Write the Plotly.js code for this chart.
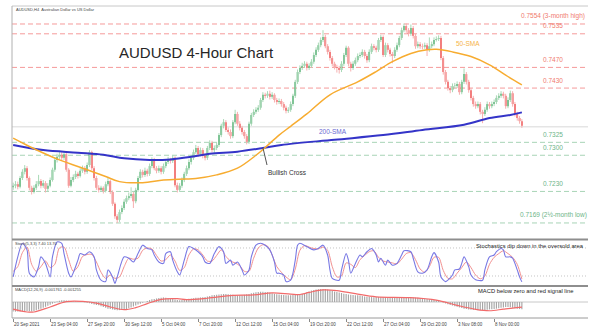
<!DOCTYPE html>
<html><head><meta charset="utf-8">
<script src="https://cdn.plot.ly/plotly-3.0.1.min.js"></script>
<style>html,body{margin:0;padding:0;background:#fff}#chart{width:600px;height:332px}</style>
</head><body><div id="chart"></div>
<script>
// ---- price data (pips, 4-decimal price * 10000), one 4-hour candle per index ----
const opens = [7238,7241,7244,7239,7256,7268,7275,7256,7237,7229,
7237,7244,7250,7241,7246,7235,7241,7252,7272,7291,
7297,7301,7295,7302,7272,7241,7252,7258,7264,7260,
7270,7275,7268,7281,7306,7275,7256,7237,7233,7237,
7231,7244,7250,7229,7206,7182,7175,7190,7198,7210,
7217,7221,7225,7211,7233,7256,7268,7262,7270,7264,
7279,7291,7275,7270,7275,7268,7279,7287,7291,7289,
7295,7242,7233,7241,7252,7264,7275,7287,7295,7306,
7314,7302,7310,7299,7295,7314,7324,7310,7314,7320,
7339,7357,7364,7349,7345,7337,7364,7380,7361,7353,
7345,7337,7326,7361,7378,7384,7388,7392,7407,7417,
7415,7419,7413,7417,7407,7403,7405,7399,7392,7386,
7388,7399,7415,7442,7461,7469,7473,7477,7469,7473,
7481,7494,7504,7513,7523,7529,7511,7500,7488,7477,
7471,7469,7465,7477,7494,7508,7477,7469,7477,7484,
7492,7494,7500,7492,7484,7500,7511,7508,7504,7523,
7529,7494,7513,7504,7496,7492,7504,7513,7527,7542,
7550,7542,7535,7546,7531,7511,7515,7511,7510,7513,
7504,7511,7515,7523,7525,7527,7488,7461,7442,7430,
7426,7434,7434,7438,7422,7442,7457,7442,7426,7411,
7399,7395,7399,7384,7380,7388,7399,7395,7399,7403,
7411,7415,7419,7415,7395,7407,7420,7399,7380,7372,
7366];
const highs = [7247,7250,7249,7260,7273,7281,7279,7259,7241,7242,
7250,7262,7254,7252,7250,7246,7257,7276,7296,7303,
7309,7306,7307,7305,7275,7258,7263,7270,7268,7275,
7280,7279,7286,7310,7309,7279,7260,7242,7241,7240,
7249,7256,7253,7232,7209,7186,7195,7203,7215,7222,
7228,7238,7229,7237,7260,7273,7272,7276,7274,7284,
7296,7295,7279,7280,7279,7284,7292,7297,7295,7300,
7298,7247,7246,7257,7268,7280,7292,7300,7311,7320,
7318,7315,7314,7303,7318,7329,7328,7319,7325,7343,
7361,7370,7368,7354,7350,7368,7388,7384,7366,7357,
7349,7341,7365,7382,7389,7393,7397,7411,7422,7421,
7424,7425,7422,7420,7411,7410,7409,7403,7396,7393,
7404,7419,7446,7466,7474,7479,7482,7481,7478,7486,
7499,7509,7518,7528,7542,7533,7515,7504,7492,7481,
7475,7473,7482,7498,7512,7511,7481,7482,7489,7497,
7499,7505,7504,7496,7505,7516,7515,7512,7527,7533,
7532,7518,7517,7508,7500,7509,7518,7531,7547,7555,
7555,7546,7553,7550,7535,7520,7519,7516,7518,7517,
7528,7520,7528,7530,7532,7531,7492,7465,7446,7434,
7439,7440,7443,7442,7446,7468,7461,7446,7430,7415,
7404,7404,7403,7388,7393,7404,7403,7404,7408,7416,
7420,7424,7423,7419,7412,7425,7424,7403,7384,7376,
7370];
const lows = [7233,7236,7234,7236,7252,7263,7251,7232,7224,7226,
7233,7240,7236,7237,7228,7230,7238,7249,7268,7286,
7292,7289,7291,7268,7237,7238,7248,7254,7255,7257,
7266,7263,7264,7277,7271,7251,7233,7228,7229,7226,
7228,7240,7225,7202,7177,7169,7171,7186,7194,7206,
7213,7217,7198,7207,7229,7252,7257,7258,7259,7260,
7275,7271,7265,7266,7263,7264,7275,7283,7284,7285,
7238,7228,7229,7237,7248,7260,7271,7282,7291,7302,
7297,7298,7294,7290,7291,7310,7306,7305,7310,7316,
7335,7352,7345,7340,7332,7333,7360,7357,7348,7340,
7332,7321,7322,7357,7374,7380,7384,7388,7403,7410,
7411,7408,7409,7402,7398,7399,7394,7387,7381,7382,
7384,7395,7411,7438,7457,7465,7469,7464,7465,7469,
7477,7490,7500,7509,7519,7507,7495,7483,7472,7466,
7460,7458,7461,7473,7490,7472,7462,7465,7473,7480,
7488,7490,7487,7479,7480,7496,7503,7499,7500,7519,
7490,7490,7499,7491,7478,7488,7500,7509,7523,7538,
7537,7530,7531,7526,7506,7507,7506,7505,7506,7492,
7500,7507,7511,7520,7521,7484,7456,7437,7425,7420,
7422,7429,7430,7417,7418,7438,7437,7421,7406,7394,
7390,7391,7379,7362,7376,7384,7390,7391,7395,7399,
7407,7411,7410,7390,7391,7403,7394,7375,7367,7361,
7353];
const closes = [7241,7244,7239,7256,7268,7275,7256,7237,7229,7237,
7244,7250,7241,7246,7235,7241,7252,7272,7291,7297,
7301,7295,7302,7272,7241,7252,7258,7264,7260,7270,
7275,7268,7281,7306,7275,7256,7237,7233,7237,7231,
7244,7250,7229,7206,7182,7175,7190,7198,7210,7217,
7221,7225,7211,7233,7256,7268,7262,7270,7264,7279,
7291,7275,7270,7275,7268,7279,7287,7291,7289,7295,
7242,7233,7241,7252,7264,7275,7287,7295,7306,7314,
7302,7310,7299,7295,7314,7324,7310,7314,7320,7339,
7357,7364,7349,7345,7337,7364,7380,7361,7353,7345,
7337,7326,7361,7378,7384,7388,7392,7407,7417,7415,
7419,7413,7417,7407,7403,7405,7399,7392,7386,7388,
7399,7415,7442,7461,7469,7473,7477,7469,7473,7481,
7494,7504,7513,7523,7529,7511,7500,7488,7477,7471,
7469,7465,7477,7494,7508,7477,7469,7477,7484,7492,
7494,7500,7492,7484,7500,7511,7508,7504,7523,7529,
7494,7513,7504,7496,7492,7504,7513,7527,7542,7550,
7542,7535,7546,7531,7511,7515,7511,7510,7513,7504,
7511,7515,7523,7525,7527,7488,7461,7442,7430,7426,
7434,7434,7438,7422,7442,7457,7442,7426,7411,7399,
7395,7399,7384,7380,7388,7399,7395,7399,7403,7411,
7415,7419,7415,7395,7407,7420,7399,7380,7372,7366,
7357];

// ---- moving averages (candle index, pips) ----
const sma50X = [0,7,20,32,40,46,56,65,74,79,88,97,105,109,115,120,127,137,149,157,164,172,179,183,190,198,206,213,220];
const sma50Y = [7333,7317,7291,7272,7259,7249,7247,7252,7254,7255,7262,7275,7300,7315,7339,7356,7380,7417,7442,7462,7481,7497,7504,7505,7500,7491,7475,7455,7436];
const sma200X = [0,13,28,39,48,59,68,77,85,97,108,116,139,160,177,195,206,215,220];
const sma200Y = [7320,7310,7305,7301,7294,7291,7292,7297,7303,7307,7314,7320,7330,7339,7349,7359,7372,7378,7383];

// ---- stochastic (5,3,3) ----
const stochKX = [0,2,4,6,7,9,11,12,14,16,17,19,21,22,24,25,28,29,31,33,35,36,38,40,41,43,44,45,48,50,52,54,56,58,60,61,63,65,66,68,69,71,72,74,76,78,80,82,83,85,87,89,91,92,94,95,97,99,100,102,103,105,107,109,111,113,114,115,117,118,120,122,123,124,127,130,132,134,136,137,138,141,142,144,145,146,148,150,151,153,155,157,158,159,161,162,164,166,168,169,172,173,175,177,179,181,182,184,185,187,188,190,191,193,194,195,197,198,200,203,204,206,208,209,211,212,213,215,216,218,219,220];
const stochKY = [18,61,90,76,26,18,40,61,47,18,61,93,90,68,26,18,54,68,65,72,61,33,11,8,33,18,4,18,61,58,50,68,86,79,76,65,50,47,68,72,54,29,22,54,83,79,72,61,50,47,68,83,72,47,54,43,50,33,22,33,61,86,90,86,76,50,26,26,22,8,11,54,86,90,83,76,79,86,65,33,15,11,33,68,54,26,47,65,61,72,79,65,50,58,43,54,43,47,65,74,72,58,29,26,33,61,70,50,18,8,11,22,33,35,47,61,40,22,12,11,33,61,65,72,79,76,61,61,58,33,18,7.4];
const stochDX = [0,2,4,6,8,10,12,14,16,18,20,22,24,26,28,30,32,34,36,38,40,42,44,46,48,50,52,54,56,58,60,62,64,66,68,70,72,74,76,78,80,82,84,86,88,90,92,94,96,98,100,102,104,106,108,110,112,114,116,118,120,122,124,126,129,132,134,136,138,140,142,144,146,148,150,152,154,156,158,160,162,164,166,168,170,172,174,176,178,180,182,184,186,188,190,192,194,196,198,200,202,204,206,208,210,212,214,216,218,220];
const stochDY = [30,40,70,82,45,30,40,52,38,45,80,82,55,30,40,62,66,66,50,28,15,22,15,18,40,58,56,58,75,80,78,64,52,55,65,52,32,38,65,78,76,65,52,52,64,76,62,52,48,42,30,30,58,80,87,84,65,40,28,18,12,35,75,85,80,78,82,75,40,18,20,48,45,38,55,64,72,74,60,52,50,48,46,56,68,70,55,35,28,40,60,60,32,15,14,26,38,50,38,22,14,20,45,60,68,74,68,60,45,13.7];

// ---- MACD (12,26,9), units of 0.00001 ----
const macdHist = [-230,-232,-228,-225,-222,-220,-218,-222,-225,-215,
-200,-180,-160,-140,-115,-90,-65,-40,-15,10,
30,40,42,38,30,22,15,10,5,2,
0,-5,-15,-30,-45,-60,-70,-80,-100,-120,
-140,-160,-170,-180,-190,-195,-195,-190,-185,-170,
-150,-130,-110,-85,-60,-40,-20,0,25,50,
65,75,85,95,105,110,100,90,80,70,
60,50,45,50,60,70,80,85,90,100,
105,110,115,120,130,145,160,170,175,180,
185,190,190,185,180,175,165,160,160,165,
175,185,195,210,225,235,240,245,245,240,
235,225,210,195,185,180,175,170,165,160,
165,170,175,180,190,200,215,235,255,275,
290,300,305,310,312,310,300,285,265,250,
240,230,215,200,190,180,175,170,165,160,
155,145,135,125,120,118,115,118,120,122,
120,115,110,108,106,104,102,100,100,102,
105,108,110,108,105,100,95,90,85,75,
65,55,50,45,35,15,-10,-35,-55,-70,
-85,-100,-115,-130,-145,-160,-170,-180,-185,-190,
-192,-195,-196,-195,-190,-185,-178,-172,-168,-160,
-150,-140,-130,-122,-120,-125,-140,-150,-160,-170,
-176];
const signalX = [0,6,9,16,23,30,36,42,48,53,58,64,71,75,84,95,104,112,120,124,128,134,140,148,157,171,183,192,200,206,212,216,220];
const signalY = [-170,-240,-240,-120,10,15,-25,-120,-185,-135,-40,65,80,55,90,160,170,220,190,180,230,290,275,200,125,105,45,-80,-175,-210,-170,-145,-125];

// ---- levels and labels ----
const levelValues = [0.7554,0.7535,0.7470,0.7430,0.7325,0.7300,0.7230,0.7169];
const levelLabels = ['0.7554 (3-month high)','0.7535','0.7470','0.7430','0.7325','0.7300','0.7230','0.7169 (2½-month low)'];
const levelKinds = ['resistance','resistance','resistance','resistance','support','support','support','support'];
const currentPrice = 0.7355;
const tickIdx = [0,16,32,48,64,80,96,112,128,144,160,176,192,208];
const tickLabels = ['20 Sep 2021','23 Sep 04:00','27 Sep 20:00','30 Sep 12:00','5 Oct 04:00','7 Oct 20:00','12 Oct 12:00','15 Oct 04:00','19 Oct 20:00','22 Oct 12:00','27 Oct 04:00','29 Oct 20:00','3 Nov 08:00','8 Nov 00:00'];

// ---- build ----
const FONT = 'Arial, "Liberation Sans", sans-serif';
const px = v => v / 600, py = v => 1 - v / 332;
const P = v => v / 10000, M = v => v / 100000;

const upX=[],upB=[],upH=[],dnX=[],dnB=[],dnH=[],wuX=[],wuY=[],wdX=[],wdY=[];
closes.forEach((c,i)=>{
  const o = opens[i];
  if (c >= o) { upX.push(i); upB.push(P(o)); upH.push(P(Math.max(c-o,0.7)));
    wuX.push(i,i,null); wuY.push(P(lows[i]),P(highs[i]),null); }
  else { dnX.push(i); dnB.push(P(c)); dnH.push(P(o-c));
    wdX.push(i,i,null); wdY.push(P(lows[i]),P(highs[i]),null); }
});

const traces = [
  {type:'scatter',mode:'lines',x:wuX,y:wuY,line:{color:'#a9d9b6',width:1},xaxis:'x',yaxis:'y'},
  {type:'scatter',mode:'lines',x:wdX,y:wdY,line:{color:'#f6b0b0',width:1},xaxis:'x',yaxis:'y'},
  {type:'bar',x:upX,base:upB,y:upH,width:0.72,marker:{color:'#33a05a',line:{width:0}},xaxis:'x',yaxis:'y'},
  {type:'bar',x:dnX,base:dnB,y:dnH,width:0.72,marker:{color:'#ec2a2a',line:{width:0}},xaxis:'x',yaxis:'y'},
  {type:'scatter',mode:'lines',x:sma200X,y:sma200Y.map(P),line:{color:'#3434c8',width:2,shape:'spline',smoothing:1},xaxis:'x',yaxis:'y'},
  {type:'scatter',mode:'lines',x:sma50X,y:sma50Y.map(P),line:{color:'#f7ac30',width:1.5,shape:'spline',smoothing:1},xaxis:'x',yaxis:'y'},
  {type:'scatter',mode:'lines',x:stochDX,y:stochDY,line:{color:'#f29090',width:1,shape:'spline',smoothing:0.8},xaxis:'x',yaxis:'y2'},
  {type:'scatter',mode:'lines',x:stochKX,y:stochKY,line:{color:'#7878e4',width:1.1,shape:'spline',smoothing:0.8},xaxis:'x',yaxis:'y2'},
  {type:'bar',x:macdHist.map((_,i)=>i),y:macdHist.map(M),width:0.5,marker:{color:'#a6a6a6',line:{width:0}},xaxis:'x',yaxis:'y3'},
  {type:'scatter',mode:'lines',x:signalX,y:signalY.map(M),line:{color:'#f26a6a',width:1.2,shape:'spline',smoothing:1},xaxis:'x',yaxis:'y3'}
];

const shapes = [];
const ann = [];
levelValues.forEach((v,k)=>{
  const res = levelKinds[k]==='resistance';
  shapes.push({type:'line',xref:'paper',yref:'y',x0:px(12),x1:px(588),y0:v,y1:v,
    line:{color:res?'#f59a9a':'#a8d4b6',width:1,dash:'5px,3px'},layer:'below'});
  ann.push({xref:'paper',yref:'y',x:px(553),y:v,yshift:8,text:levelLabels[k],showarrow:false,
    xanchor:'center',yanchor:'middle',font:{family:FONT,size:6.5,color:res?'#f07b6e':'#6db589'}});
});
shapes.push({type:'line',xref:'paper',yref:'y',x0:px(12),x1:px(588),y0:currentPrice,y1:currentPrice,line:{color:'#d8d8d8',width:1},layer:'below'});
[80,20].forEach(v=>shapes.push({type:'line',xref:'paper',yref:'y2',x0:px(12),x1:px(588),y0:v,y1:v,line:{color:'#c4c4c4',width:1,dash:'1px,2px'},layer:'below'}));
shapes.push({type:'line',xref:'paper',yref:'y3',x0:px(12),x1:px(588),y0:0,y1:0,line:{color:'#c8c8c8',width:1},layer:'below'});
// frame / separators
shapes.push({type:'line',xref:'paper',yref:'paper',x0:px(12),x1:px(588),y0:py(6),y1:py(6),line:{color:'#c8c8c8',width:1}});
shapes.push({type:'line',xref:'paper',yref:'paper',x0:px(12),x1:px(12),y0:py(6),y1:py(318),line:{color:'#b0b0b0',width:1}});
shapes.push({type:'line',xref:'paper',yref:'paper',x0:px(12),x1:px(588),y0:py(239.5),y1:py(239.5),line:{color:'#8e8e8e',width:2}});
shapes.push({type:'line',xref:'paper',yref:'paper',x0:px(12),x1:px(588),y0:py(286),y1:py(286),line:{color:'#8e8e8e',width:2}});
shapes.push({type:'line',xref:'paper',yref:'paper',x0:px(12),x1:px(588),y0:py(318),y1:py(318),line:{color:'#9a9a9a',width:1}});
// bullish cross pointer
shapes.push({type:'line',xref:'paper',yref:'paper',x0:px(263),x1:px(267),y0:py(148),y1:py(165),line:{color:'#555',width:1}});

ann.push({xref:'paper',yref:'paper',x:px(196),y:py(53),text:'AUDUSD 4-Hour Chart',showarrow:false,xanchor:'center',yanchor:'middle',font:{family:FONT,size:15,color:'#262626'}});
ann.push({xref:'paper',yref:'paper',x:px(14),y:py(9),text:'AUDUSD,H4&nbsp;&nbsp;Australian Dollar vs US Dollar',showarrow:false,xanchor:'left',yanchor:'middle',font:{family:FONT,size:4,color:'#444'}});
ann.push({xref:'paper',yref:'paper',x:px(468),y:py(43),text:'50-SMA',showarrow:false,xanchor:'center',yanchor:'middle',font:{family:FONT,size:6.5,color:'#f5b348'}});
ann.push({xref:'paper',yref:'paper',x:px(333),y:py(131),text:'200-SMA',showarrow:false,xanchor:'center',yanchor:'middle',font:{family:FONT,size:6.5,color:'#6a6ad2'}});
ann.push({xref:'paper',yref:'paper',x:px(266),y:py(172),text:'Bullish Cross',showarrow:false,xanchor:'left',yanchor:'middle',font:{family:FONT,size:6.5,color:'#333'}});
ann.push({xref:'paper',yref:'paper',x:px(13),y:py(243.5),text:'Stoch(5,3,3) 7.40 13.70',showarrow:false,xanchor:'left',yanchor:'middle',font:{family:FONT,size:4,color:'#444'}});
ann.push({xref:'paper',yref:'paper',x:px(13),y:py(289.5),text:'MACD(12,26,9) -0.001761 -0.001255',showarrow:false,xanchor:'left',yanchor:'middle',font:{family:FONT,size:4,color:'#444'}});
ann.push({xref:'paper',yref:'paper',x:px(530),y:py(246),text:'Stochastics dip down in the oversold area',showarrow:false,xanchor:'center',yanchor:'middle',font:{family:FONT,size:5.8,color:'#222'}});
ann.push({xref:'paper',yref:'paper',x:px(525),y:py(291),text:'MACD below zero and red signal line',showarrow:false,xanchor:'center',yanchor:'middle',font:{family:FONT,size:5.8,color:'#222'}});
tickIdx.forEach((t,k)=>ann.push({xref:'x',yref:'paper',x:t,y:py(324),text:tickLabels[k],showarrow:false,xanchor:'left',yanchor:'middle',xshift:-1,font:{family:FONT,size:4.5,color:'#444'}}));

const layout = {
  width:600,height:332,margin:{l:0,r:0,t:0,b:0},
  paper_bgcolor:'#ffffff',plot_bgcolor:'rgba(0,0,0,0)',
  showlegend:false,barmode:'overlay',hovermode:false,
  xaxis:{domain:[px(12),px(588)],range:[-0.5,248.6],anchor:'y3',showgrid:false,zeroline:false,showline:false,
    tickmode:'array',tickvals:tickIdx,ticks:'outside',ticklen:3,tickcolor:'#888',tickwidth:1,showticklabels:false,fixedrange:true},
  yaxis:{domain:[py(239),py(6)],range:[0.713796,0.75888],visible:false,fixedrange:true},
  yaxis2:{domain:[py(285),py(240)],range:[0.7,97.1],visible:false,fixedrange:true},
  yaxis3:{domain:[py(318),py(287)],range:[-0.00384,0.0036],visible:false,fixedrange:true},
  shapes:shapes,annotations:ann
};
Plotly.newPlot('chart',traces,layout,{staticPlot:true,displayModeBar:false});
</script></body></html>
